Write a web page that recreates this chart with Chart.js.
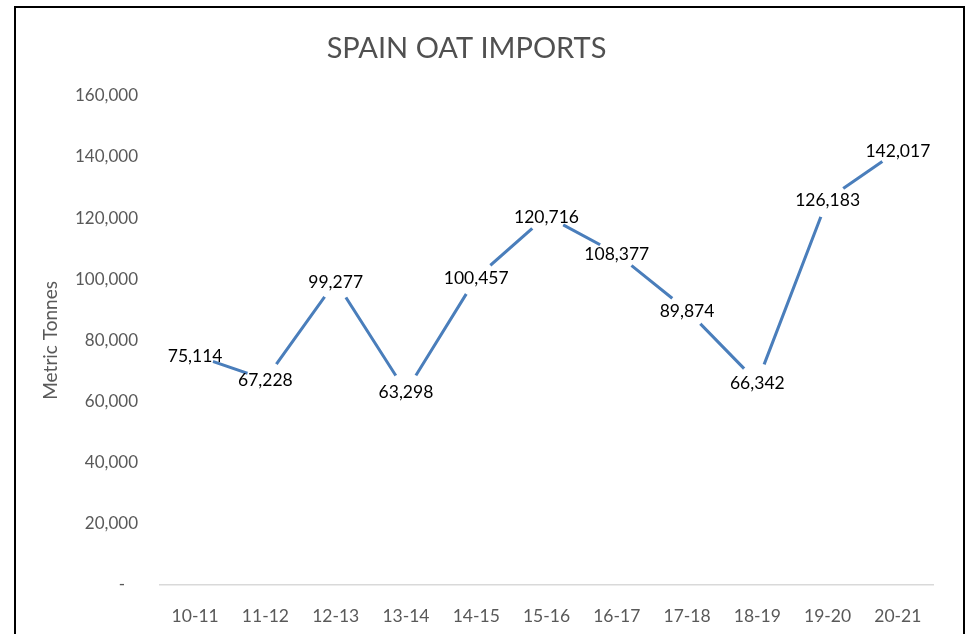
<!DOCTYPE html>
<html>
<head>
<meta charset="utf-8">
<script src="https://cdn.jsdelivr.net/npm/chart.js@4"></script>
<style>
  html, body { margin: 0; padding: 0; background: #fff; }
  #wrap { position: relative; width: 968px; height: 634px; overflow: hidden; }
  #frame {
    position: absolute; left: 14px; top: 6px; width: 951px; height: 700px;
    box-sizing: border-box; border: 2px solid #000; pointer-events: none;
  }
  canvas { position: absolute; left: 0; top: 0; }
</style>
</head>
<body>
<div id="wrap">
  <canvas id="myChart" width="968" height="634"></canvas>
  <div id="frame"></div>
</div>
<script>
// marketing years
var seasons = ["10-11", "11-12", "12-13", "13-14", "14-15", "15-16", "16-17", "17-18", "18-19", "19-20", "20-21"];
// imports, metric tonnes
var imports = [75114, 67228, 99277, 63298, 100457, 120716, 108377, 89874, 66342, 126183, 142017];
// y axis
var yMin = 0;
var yMax = 160000;
var yStep = 20000;

var grey = '#595959';
var font = 'Lato, "Open Sans", sans-serif';

function fmt(v) {
  return v === 0 ? '-   ' : v.toLocaleString('en-US');
}

// value labels sitting on each point
var valueLabels = {
  id: 'valueLabels',
  afterDatasetsDraw: function(chart) {
    var ctx = chart.ctx;
    var meta = chart.getDatasetMeta(0);
    ctx.save();
    ctx.font = '17.5px ' + font;
    ctx.fillStyle = '#000';
    ctx.textAlign = 'center';
    ctx.textBaseline = 'middle';
    meta.data.forEach(function(pt, i) {
      ctx.fillText(imports[i].toLocaleString('en-US'), pt.x, pt.y + 1);
    });
    ctx.restore();
  }
};

var ctx = document.getElementById("myChart");
var myLineChart = new Chart(ctx, {
  type: 'line',
  data: {
    labels: seasons,
    datasets: [{
      label: 'Imports',
      data: imports,
      fill: false,
      borderColor: '#4a7ebb',
      borderWidth: 3,
      tension: 0,
      // white discs leave the gap round each label
      pointRadius: 19,
      pointHoverRadius: 19,
      pointBackgroundColor: '#fff',
      pointBorderWidth: 0,
      pointBorderColor: '#fff'
    }]
  },
  options: {
    responsive: false,
    animation: false,
    events: [],
    layout: { padding: { left: 0, right: 35, top: 0, bottom: 0 } },
    plugins: {
      legend: { display: false },
      tooltip: { enabled: false },
      title: {
        display: true,
        text: 'SPAIN OAT IMPORTS',
        color: '#505050',
        font: { family: font, size: 29, weight: 'normal' },
        padding: { top: 31, bottom: 30 }
      }
    },
    scales: {
      x: {
        offset: true,
        grid: { display: false, drawTicks: false },
        border: { display: true, color: '#d9d9d9', width: 1.5 },
        ticks: {
          color: grey,
          font: { family: font, size: 17.5 },
          padding: 21,
          maxRotation: 0,
          autoSkip: false
        },
        afterFit: function(scale) { scale.height = 49; }
      },
      y: {
        min: yMin,
        max: yMax,
        grid: { display: false, drawTicks: false },
        border: { display: false },
        ticks: {
          stepSize: yStep,
          color: grey,
          font: { family: font, size: 17 },
          padding: 22,
          callback: function(v) { return fmt(v); }
        },
        title: {
          display: true,
          text: 'Metric Tonnes',
          color: grey,
          font: { family: font, size: 19 },
          padding: { top: 39, bottom: 0 }
        },
        afterFit: function(scale) { scale.width = 160; }
      }
    }
  },
  plugins: [valueLabels]
});
</script>
</body>
</html>
